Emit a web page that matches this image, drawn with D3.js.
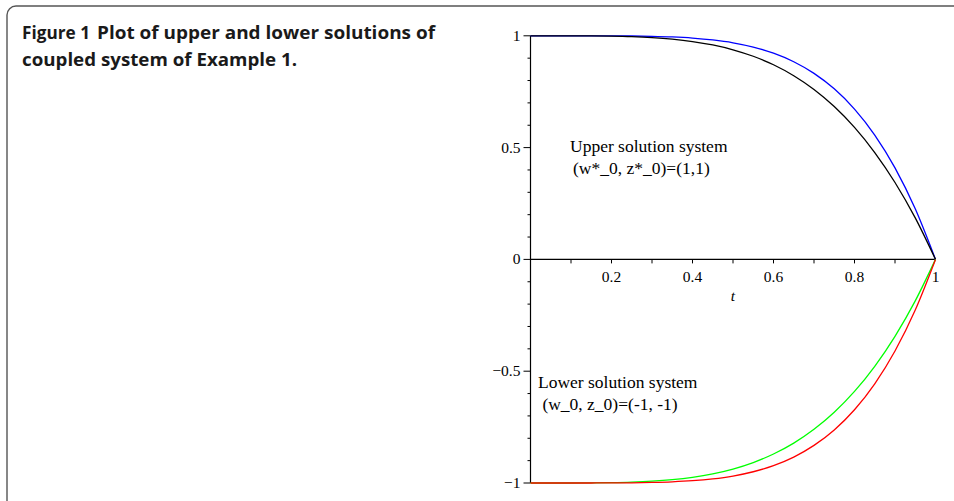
<!DOCTYPE html>
<html>
<head>
<meta charset="utf-8">
<script src="https://cdn.jsdelivr.net/npm/d3@7"></script>
<style>
  html, body { margin: 0; padding: 0; background: #fff; }
  svg { display: block; }
</style>
</head>
<body>
<svg id="chart" width="954" height="501"></svg>
<script>
// ---- data ----
const tValues = [0, 0.05, 0.1, 0.15, 0.2, 0.25, 0.3, 0.35, 0.4, 0.45, 0.5, 0.55, 0.6, 0.65, 0.7, 0.75, 0.8, 0.85, 0.9, 0.95, 1];
const upperBlue  = [1, 1, 1, 0.9999, 0.9997, 0.999, 0.9976, 0.9948, 0.9898, 0.9815, 0.9688, 0.9497, 0.9222, 0.884, 0.8319, 0.7627, 0.6723, 0.5563, 0.4095, 0.2262, 0];
const upperBlack = [1, 1, 0.9999, 0.9995, 0.9984, 0.9961, 0.9919, 0.985, 0.9744, 0.959, 0.9375, 0.9085, 0.8704, 0.8215, 0.7599, 0.6836, 0.5904, 0.478, 0.3439, 0.1855, 0];
const lowerGreen = [-1, -1, -0.9999, -0.9995, -0.9984, -0.9961, -0.9919, -0.985, -0.9744, -0.959, -0.9375, -0.9085, -0.8704, -0.8215, -0.7599, -0.6836, -0.5904, -0.478, -0.3439, -0.1855, 0];
const lowerRed   = [-1, -1, -1, -0.9999, -0.9997, -0.999, -0.9976, -0.9948, -0.9898, -0.9815, -0.9688, -0.9497, -0.9222, -0.884, -0.8319, -0.7627, -0.6723, -0.5563, -0.4095, -0.2262, 0];
const xTickValues = [0.2, 0.4, 0.6, 0.8, 1];
const xTickLabels = ["0.2", "0.4", "0.6", "0.8", "1"];
const yTickValues = [1, 0.5, 0, -0.5, -1];
const yTickLabels = ["1", "0.5", "0", "\u22120.5", "\u22121"];
const seriesNames = ["upperBlue", "upperBlack", "lowerGreen", "lowerRed"];
const seriesColors = ["#0000ff", "#000000", "#00ff00", "#ff0000"];
const titleLine1a = "Figure 1";
const titleLine1b = "Plot of upper and lower solutions of";
const titleLine2 = "coupled system of Example 1.";
const upperNote = ["Upper solution system", "(w*_0, z*_0)=(1,1)"];
const lowerNote = ["Lower solution system", " (w_0, z_0)=(-1, -1)"];
const xAxisLabel = "t";

const svg = d3.select("#chart");

// frame
svg.append("rect")
  .attr("x", 7).attr("y", 6).attr("width", 1000).attr("height", 600)
  .attr("rx", 9).attr("ry", 9)
  .attr("fill", "none").attr("stroke", "#555").attr("stroke-width", 1.4);

// title
const titleFont = "'Open Sans', 'Noto Sans', sans-serif";
function fitText(x, y, txt, w) {
  const t = svg.append("text").attr("x", x).attr("y", y)
    .attr("font-family", titleFont).attr("font-weight", "bold")
    .attr("font-size", 18.5).attr("fill", "#1a1a1a").text(txt);
  t.attr("textLength", w).attr("lengthAdjust", "spacingAndGlyphs");
}
fitText(22, 39, titleLine1a, 68);
fitText(97, 39, titleLine1b, 338);
fitText(22, 66, titleLine2, 275);

// scales
const x = d3.scaleLinear().domain([0, 1]).range([530.5, 935.5]);
const y = d3.scaleLinear().domain([-1, 1]).range([483, 35.8]);

const serif = "'Liberation Serif', 'Times New Roman', serif";

// x axis
const xAxisG = svg.append("g").attr("transform", `translate(0,${y(0)})`);
xAxisG.append("line").attr("x1", x(0)).attr("x2", x(1)).attr("stroke", "#000").attr("stroke-width", 1.2);
const xMinor = d3.range(1, 10).map(i => i / 10);
xAxisG.selectAll("line.minor").data(xMinor).enter().append("line")
  .attr("x1", d => x(d)).attr("x2", d => x(d)).attr("y1", 0).attr("y2", 4)
  .attr("stroke", "#000").attr("stroke-width", 1);
xAxisG.selectAll("text.tl").data(xTickValues).enter().append("text")
  .attr("x", d => x(d)).attr("y", 23).attr("text-anchor", "middle")
  .attr("font-family", serif).attr("font-size", 15.5).attr("fill", "#000")
  .text((d, i) => xTickLabels[i]);
svg.append("text").attr("x", x(0.5)).attr("y", 301).attr("text-anchor", "middle")
  .attr("font-family", serif).attr("font-style", "italic").attr("font-size", 15.5)
  .text(xAxisLabel);

// y axis
const yAxisG = svg.append("g").attr("transform", `translate(${x(0)},0)`);
yAxisG.append("line").attr("y1", y(1)).attr("y2", y(-1)).attr("stroke", "#000").attr("stroke-width", 1.2);
const yMinor = d3.range(-10, 11).map(i => i / 10).filter(d => !yTickValues.includes(d) && d !== 0);
yAxisG.selectAll("line.minor").data(yMinor).enter().append("line")
  .attr("x1", -3).attr("x2", 0).attr("y1", d => y(d)).attr("y2", d => y(d))
  .attr("stroke", "#000").attr("stroke-width", 1);
yAxisG.selectAll("line.major").data(yTickValues).enter().append("line")
  .attr("x1", -7).attr("x2", 0).attr("y1", d => y(d)).attr("y2", d => y(d))
  .attr("stroke", "#000").attr("stroke-width", 1);
yAxisG.selectAll("text.tl").data(yTickValues).enter().append("text")
  .attr("x", -10).attr("y", d => y(d) + 5).attr("text-anchor", "end")
  .attr("font-family", serif).attr("font-size", 15.5).attr("fill", "#000")
  .text((d, i) => yTickLabels[i]);

// curves
const seriesData = [upperBlue, upperBlack, lowerGreen, lowerRed];
const line = d3.line().x(d => x(d[0])).y(d => y(d[1])).curve(d3.curveMonotoneX);
seriesData.forEach((vals, i) => {
  svg.append("path")
    .datum(tValues.map((t, j) => [t, vals[j]]))
    .attr("d", line).attr("fill", "none")
    .attr("stroke", seriesColors[i]).attr("stroke-width", 1.3)
    .attr("class", seriesNames[i]);
});

// notes
const noteSize = 17.5;
svg.append("text").attr("x", 570).attr("y", 152)
  .attr("font-family", serif).attr("font-size", noteSize).text(upperNote[0]);
svg.append("text").attr("x", 573).attr("y", 174)
  .attr("font-family", serif).attr("font-size", noteSize).text(upperNote[1]);
svg.append("text").attr("x", 538).attr("y", 388)
  .attr("font-family", serif).attr("font-size", noteSize).text(lowerNote[0]);
svg.append("text").attr("x", 538).attr("y", 410)
  .style("white-space", "pre")
  .attr("font-family", serif).attr("font-size", noteSize).text(lowerNote[1]);
</script>
</body>
</html>
